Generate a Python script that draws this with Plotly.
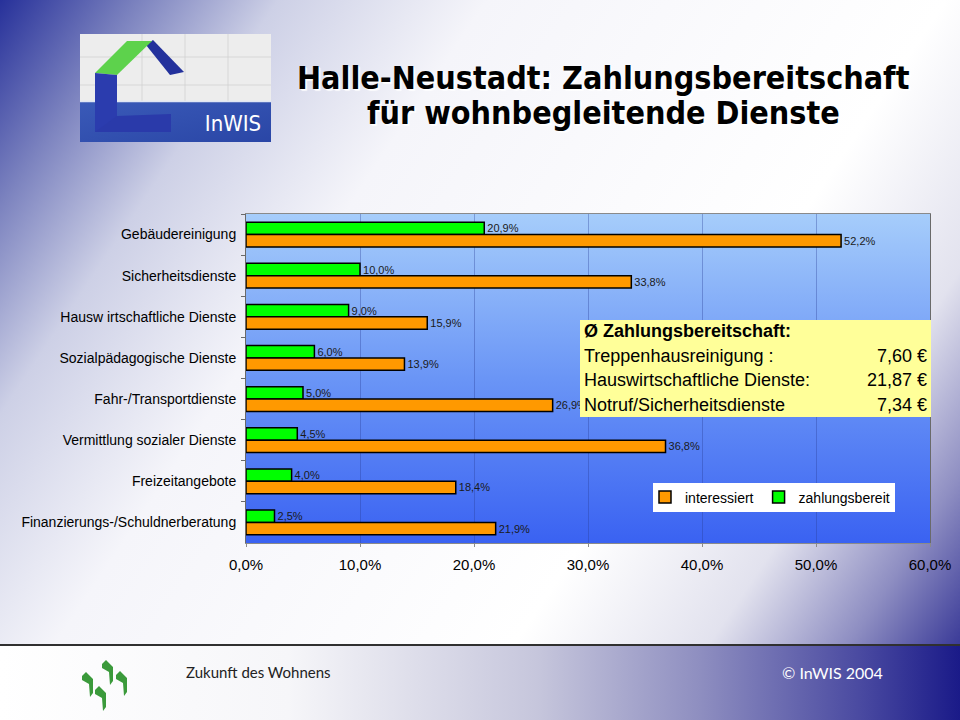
import base64
import plotly.graph_objects as go

# ---------------- data ----------------
categories = [
    "Gebäudereinigung",
    "Sicherheitsdienste",
    "Hausw irtschaftliche Dienste",
    "Sozialpädagogische Dienste",
    "Fahr-/Transportdienste",
    "Vermittlung sozialer Dienste",
    "Freizeitangebote",
    "Finanzierungs-/Schuldnerberatung",
]
interessiert = [52.2, 33.8, 15.9, 13.9, 26.9, 36.8, 18.4, 21.9]
zahlungsbereit = [20.9, 10.0, 9.0, 6.0, 5.0, 4.5, 4.0, 2.5]
x_ticks = [0, 10, 20, 30, 40, 50, 60]
x_tick_labels = ["0,0%", "10,0%", "20,0%", "30,0%", "40,0%", "50,0%", "60,0%"]

title_lines = ["Halle-Neustadt: Zahlungsbereitschaft", "für wohnbegleitende Dienste"]
box_title = "Ø Zahlungsbereitschaft:"
box_items = ["Treppenhausreinigung :", "Hauswirtschaftliche Dienste:", "Notruf/Sicherheitsdienste"]
box_values = ["7,60 €", "21,87 €", "7,34 €"]
footer_left = "Zukunft des Wohnens"
footer_right = "© InWIS 2004"

# ---------------- layout geometry ----------------
W, H = 960, 720
ML, MR, MT, MB = 246, 30, 214, 177
PW, PH = W - ML - MR, H - MT - MB


def fx(px):
    return (px - ML) / PW


def fy(py):
    return (H - MB - py) / PH


def svg_uri(svg):
    return "data:image/svg+xml;base64," + base64.b64encode(svg.encode("utf-8")).decode("ascii")


slide_svg = """<svg xmlns='http://www.w3.org/2000/svg' width='960' height='720' viewBox='0 0 960 720' preserveAspectRatio='none'>
<defs>
<linearGradient id='g' gradientUnits='userSpaceOnUse' x1='0' y1='0' x2='960' y2='644'>
<stop offset='0' stop-color='#27319a'/>
<stop offset='0.1' stop-color='#7c83bf'/>
<stop offset='0.2' stop-color='#cdd0e6'/>
<stop offset='0.35' stop-color='#f5f5fa'/>
<stop offset='0.68' stop-color='#ffffff'/>
<stop offset='0.82' stop-color='#e2e2ee'/>
<stop offset='0.92' stop-color='#8e8ec2'/>
<stop offset='1' stop-color='#3b3b98'/>
</linearGradient>
<linearGradient id='f' x1='0' y1='0' x2='1' y2='0'>
<stop offset='0' stop-color='#ffffff'/>
<stop offset='0.3' stop-color='#f6f6f9'/>
<stop offset='0.56' stop-color='#c6c6dc'/>
<stop offset='0.73' stop-color='#8e8ec0'/>
<stop offset='0.9' stop-color='#4848a0'/>
<stop offset='1' stop-color='#1a1a88'/>
</linearGradient>
</defs>
<rect x='0' y='0' width='960' height='645' fill='url(#g)'/>
<rect x='0' y='645' width='960' height='75' fill='url(#f)'/>
</svg>"""

plot_svg = """<svg xmlns='http://www.w3.org/2000/svg' width='100' height='100' viewBox='0 0 100 100' preserveAspectRatio='none'>
<defs><linearGradient id='p' x1='0' y1='0' x2='0' y2='1'>
<stop offset='0' stop-color='#a6cdfb'/>
<stop offset='0.5' stop-color='#6a95f6'/>
<stop offset='1' stop-color='#3a62f2'/>
</linearGradient></defs>
<rect width='100' height='100' fill='url(#p)'/>
</svg>"""

logo_svg = """<svg xmlns='http://www.w3.org/2000/svg' width='191' height='108' viewBox='0 0 191 108'>
<defs><linearGradient id='b' x1='0' y1='0' x2='1' y2='1'>
<stop offset='0' stop-color='#3a5ab8'/><stop offset='1' stop-color='#2a46a6'/>
</linearGradient></defs>
<rect width='191' height='108' fill='#ededed'/>
<g stroke='#d2d2d2' stroke-width='0.8'>
<line x1='62' y1='0' x2='62' y2='67'/><line x1='105' y1='0' x2='105' y2='67'/><line x1='148' y1='0' x2='148' y2='67'/>
<line x1='0' y1='23' x2='191' y2='23'/><line x1='0' y1='51' x2='191' y2='51'/>
</g>
<rect x='0' y='67' width='191' height='41' fill='url(#b)'/>
<line x1='0' y1='67.5' x2='191' y2='67.5' stroke='#e0e6f4' stroke-width='1.5'/>
<polygon points='66,11 73,6 104,38 90,41' fill='#23319c'/>
<polygon points='15,39 47,7 72,7 37,41' fill='#5dd24c'/>
<polygon points='15,39 37,41 37,98 15,98' fill='#2b3cae'/>
<polygon points='15,98 37,82 91,80 91,98' fill='#2a3aaa'/>
<text x='153' y='97' font-family='DejaVu Sans Condensed' font-size='22' fill='#ffffff' text-anchor='middle'>InWIS</text>
</svg>"""

leaf = "M{x0},{y4} L{x4},{y0} L{x11},{y7} L{x11},{y21} L{x8},{y25} L{x7},{y12} L{x0},{y8} Z"


def leaf_path(x, y):
    return leaf.format(x0=x, x4=x + 4, x7=x + 7, x8=x + 8, x11=x + 11,
                       y0=y, y4=y + 4, y7=y + 7, y8=y + 8, y12=y + 12, y21=y + 21, y25=y + 25)


footer_logo_svg = ("<svg xmlns='http://www.w3.org/2000/svg' width='60' height='64' viewBox='0 0 60 64'>"
                   + "".join("<path d='%s' fill='#3b9a3b'/>" % leaf_path(a, b)
                             for a, b in [(27, 8), (7, 20), (41, 19), (20, 34)])
                   + "</svg>")

# ---------------- figure ----------------
fig = go.Figure()
fig.add_trace(go.Bar(
    y=categories, x=zahlungsbereit, name="zahlungsbereit", orientation="h",
    marker=dict(color="#00ff00", line=dict(color="#000000", width=1.5)),
    texttemplate="%{x:.1f}%", textposition="outside", cliponaxis=False,
    textfont=dict(family="Arial, Liberation Sans", size=11, color="#1a1a1a"),
    hoverinfo="skip",
))
fig.add_trace(go.Bar(
    y=categories, x=interessiert, name="interessiert", orientation="h",
    marker=dict(color="#ff9900", line=dict(color="#000000", width=1.5)),
    texttemplate="%{x:.1f}%", textposition="outside", cliponaxis=False,
    textfont=dict(family="Arial, Liberation Sans", size=11, color="#1a1a1a"),
    hoverinfo="skip",
))

annotations = []
for i, line in enumerate(title_lines):
    annotations.append(dict(
        x=fx(603), y=fy(78 + 35 * i), xref="paper", yref="paper", text=line,
        showarrow=False, xanchor="center", yanchor="middle",
        font=dict(family="DejaVu Sans Condensed", size=32, color="#000000", weight="bold",
                  shadow="1px 1px 0px #ffffff, 2px 2px 1px rgba(255,255,255,0.8)"),
    ))

box_font = dict(family="Arial, Liberation Sans", size=18, color="#000000")
annotations.append(dict(
    x=fx(582), y=fy(331), xref="paper", yref="paper", text=box_title, showarrow=False,
    xanchor="left", yanchor="middle", font=dict(box_font, weight="bold"),
))
for i, (item, val) in enumerate(zip(box_items, box_values)):
    yy = 356 + 24.3 * i
    annotations.append(dict(x=fx(582), y=fy(yy), xref="paper", yref="paper", text=item,
                            showarrow=False, xanchor="left", yanchor="middle", font=box_font))
    annotations.append(dict(x=fx(929), y=fy(yy), xref="paper", yref="paper", text=val,
                            showarrow=False, xanchor="right", yanchor="middle", font=box_font))

annotations.append(dict(x=fx(184), y=fy(672), xref="paper", yref="paper", text=footer_left,
                        showarrow=False, xanchor="left", yanchor="middle",
                        font=dict(family="Lato", size=15, color="#222222")))
annotations.append(dict(x=fx(885), y=fy(672), xref="paper", yref="paper", text=footer_right,
                        showarrow=False, xanchor="right", yanchor="middle",
                        font=dict(family="Lato", size=16, color="#ffffff")))

images = [
    dict(source=svg_uri(slide_svg), xref="paper", yref="paper", x=fx(0), y=fy(0),
         sizex=W / PW, sizey=H / PH, sizing="stretch", xanchor="left", yanchor="top", layer="below"),
    dict(source=svg_uri(plot_svg), xref="paper", yref="paper", x=0, y=1,
         sizex=1, sizey=1, sizing="stretch", xanchor="left", yanchor="top", layer="below"),
    dict(source=svg_uri(logo_svg), xref="paper", yref="paper", x=fx(80), y=fy(34),
         sizex=191 / PW, sizey=108 / PH, sizing="stretch", xanchor="left", yanchor="top", layer="below"),
    dict(source=svg_uri(footer_logo_svg), xref="paper", yref="paper", x=fx(75), y=fy(652),
         sizex=60 / PW, sizey=64 / PH, sizing="stretch", xanchor="left", yanchor="top", layer="below"),
]

shapes = [
    # yellow info box
    dict(type="rect", xref="paper", yref="paper", x0=fx(580), x1=fx(931), y0=fy(320), y1=fy(417),
         fillcolor="#ffff99", line=dict(width=0), layer="above"),
    # white legend background
    dict(type="rect", xref="paper", yref="paper", x0=fx(653), x1=fx(895), y0=fy(483), y1=fy(512),
         fillcolor="#ffffff", line=dict(width=0), layer="above"),
    # footer separator
    dict(type="line", xref="paper", yref="paper", x0=fx(0), x1=fx(960), y0=fy(645), y1=fy(645),
         line=dict(color="#303030", width=2), layer="below"),
]

fig.update_layout(
    width=W, height=H,
    margin=dict(l=ML, r=MR, t=MT, b=MB, pad=0),
    paper_bgcolor="#ffffff", plot_bgcolor="rgba(0,0,0,0)",
    separators=",.",
    barmode="group", bargap=0.4, bargroupgap=0,
    showlegend=True,
    legend=dict(orientation="h", x=fx(645), y=fy(481.5), xanchor="left", yanchor="top",
                bgcolor="rgba(0,0,0,0)", borderwidth=0, traceorder="reversed", itemwidth=30,
                font=dict(family="Arial, Liberation Sans", size=14, color="#000000")),
    annotations=annotations, images=images, shapes=shapes,
    xaxis=dict(range=[0, 60], tickvals=x_ticks, ticktext=x_tick_labels,
               showgrid=True, gridcolor="rgba(40,60,150,0.35)", gridwidth=1,
               showline=True, linecolor="#8a8a8a", linewidth=1, mirror=True,
               ticks="outside", ticklen=3, tickcolor="#8a8a8a", ticklabelstandoff=5,
               zeroline=False, fixedrange=True, automargin=False,
               tickfont=dict(family="Arial, Liberation Sans", size=15, color="#000000")),
    yaxis=dict(type="category", autorange="reversed", showgrid=False,
               showline=True, linecolor="#6a6a6a", linewidth=1, mirror=True,
               ticks="outside", ticklen=4, tickcolor="#6a6a6a", tickson="boundaries",
               ticklabelstandoff=6, fixedrange=True, automargin=False,
               tickfont=dict(family="Arial, Liberation Sans", size=14, color="#000000")),
)

fig.write_html("out.html", config={"displayModeBar": False},
               post_script="document.body.style.margin='0';document.body.style.padding='0';")
